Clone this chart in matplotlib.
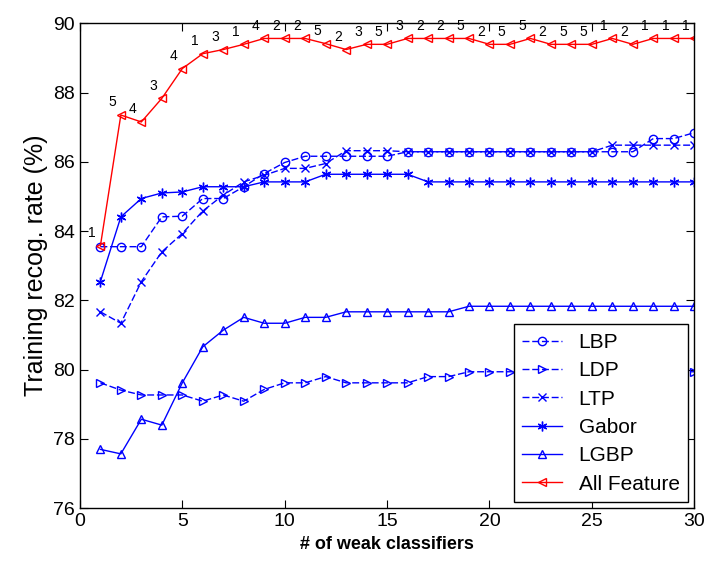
import matplotlib
matplotlib.use('Agg')
import matplotlib.pyplot as plt
import numpy as np

plt.rcParams['font.family'] = ['Liberation Sans', 'DejaVu Sans']

x = np.arange(1, 31)

lbp = [83.55, 83.55, 83.55, 84.41, 84.43, 84.94, 84.94, 85.28, 85.66, 85.98,
       86.16, 86.16, 86.16, 86.16, 86.16, 86.29, 86.29, 86.29, 86.29, 86.29,
       86.29, 86.29, 86.29, 86.29, 86.29, 86.29, 86.29, 86.67, 86.67, 86.84]
ldp = [79.62, 79.41, 79.27, 79.27, 79.27, 79.09, 79.27, 79.09, 79.43, 79.62,
       79.62, 79.80, 79.62, 79.62, 79.62, 79.62, 79.80, 79.80, 79.94, 79.94,
       79.94, 79.94, 79.94, 79.94, 79.94, 79.94, 79.94, 79.94, 79.94, 79.94]
ltp = [81.67, 81.34, 82.54, 83.40, 83.93, 84.58, 85.04, 85.42, 85.61, 85.81,
       85.81, 85.95, 86.32, 86.32, 86.32, 86.29, 86.29, 86.29, 86.29, 86.29,
       86.29, 86.29, 86.29, 86.29, 86.29, 86.48, 86.48, 86.48, 86.48, 86.48]
gabor = [82.54, 84.41, 84.94, 85.10, 85.13, 85.28, 85.28, 85.28, 85.42, 85.42,
         85.42, 85.64, 85.64, 85.64, 85.64, 85.64, 85.42, 85.42, 85.42, 85.42,
         85.42, 85.42, 85.42, 85.42, 85.42, 85.42, 85.42, 85.42, 85.42, 85.42]
lgbp = [77.70, 77.57, 78.57, 78.40, 79.62, 80.66, 81.14, 81.51, 81.34, 81.34,
        81.51, 81.51, 81.67, 81.67, 81.67, 81.67, 81.67, 81.67, 81.83, 81.83,
        81.83, 81.83, 81.83, 81.83, 81.83, 81.83, 81.83, 81.83, 81.83, 81.83]
all_feat = [83.57, 87.35, 87.15, 87.83, 88.69, 89.12, 89.24, 89.39, 89.56, 89.56,
            89.56, 89.41, 89.24, 89.39, 89.39, 89.56, 89.56, 89.56, 89.56, 89.39,
            89.39, 89.56, 89.39, 89.39, 89.39, 89.56, 89.39, 89.56, 89.56, 89.56]
feat_labels = ['1', '5', '4', '3', '4', '1', '3', '1', '4', '2',
               '2', '5', '2', '3', '5', '3', '2', '2', '5', '2',
               '5', '5', '2', '5', '5', '1', '2', '1', '1', '1']

blue = '#0000ff'
dash = (0, (5, 2))
asterisk = (6, 2, 0)

fig = plt.figure(figsize=(7.07, 5.66), dpi=100)
ax = fig.add_axes([0.113, 0.102, 0.869, 0.857])

ax.plot(x, lbp, color=blue, linestyle=dash, lw=1, marker='o', ms=6, mfc='none', label='LBP')
ax.plot(x, ldp, color=blue, linestyle=dash, lw=1, marker='>', ms=6, mfc='none', label='LDP')
ax.plot(x, ltp, color=blue, linestyle=dash, lw=1, marker='x', ms=6, label='LTP')
ax.plot(x, gabor, color=blue, linestyle='-', lw=1, marker=asterisk, ms=7, label='Gabor')
ax.plot(x, lgbp, color=blue, linestyle='-', lw=1, marker='^', ms=6, mfc='none', label='LGBP')
ax.plot(x, all_feat, color='red', linestyle='-', lw=1, marker='<', ms=6, mfc='none', label='All Feature')

# index labels above the All Feature points
for xi, yi, t in zip(x, all_feat, feat_labels):
    ax.annotate(t, (xi, yi), xytext=(-6, 4), textcoords='offset points',
                fontsize=10, ha='center', va='bottom')

ax.set_xlim(0, 30)
ax.set_ylim(76, 90)
ax.set_xticks(range(0, 31, 5))
ax.set_yticks(range(76, 91, 2))
ax.tick_params(direction='in', labelsize=14, length=6, top=True, right=True)
for s in ax.spines.values():
    s.set_linewidth(1)

ax.set_xlabel('# of weak classifiers', fontsize=13, fontweight='bold')
ax.set_ylabel('Training recog. rate (%)', fontsize=18)

leg = ax.legend(loc='lower right', fontsize=15, fancybox=False, edgecolor='black',
                framealpha=1, borderaxespad=0.3, handlelength=1.9, labelspacing=0.45)
leg.get_frame().set_linewidth(1)

plt.savefig('out.png', dpi=100)
